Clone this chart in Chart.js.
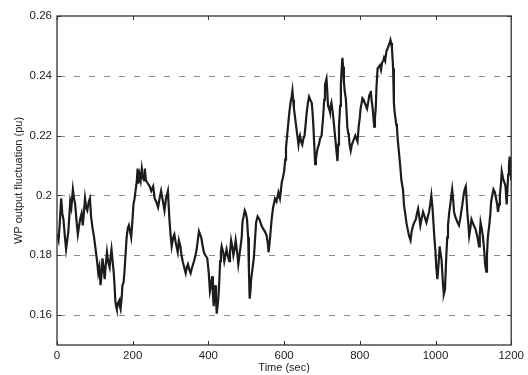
<!DOCTYPE html>
<html>
<head>
<meta charset="utf-8">
<script src="https://cdn.jsdelivr.net/npm/chart.js@4/dist/chart.umd.min.js"></script>
<style>
html,body{margin:0;padding:0;background:#fff;}
#wrap{width:528px;height:375px;position:relative;}
</style>
</head>
<body>
<div id="wrap"><canvas id="c" width="528" height="375"></canvas></div>
<script>
const timeSec = [0,4,7,11,14,17,21,24,27,30,35,38,42,45,48,52,55,61,65,68,71,74,77,80,84,87,90,94,98,102,106,109,112,115,118,120,123,126,129,132,135,139,142,144,147,150,152,154,156,158,161,165,166,168,171,173,176,178,181,184,187,190,193,196,199,202,205,208,211,213,215,218,221,224,227,230,232,235,240,245,249,254,258,262,267,271,275,280,284,288,293,297,300,303,307,310,314,319,322,326,329,332,336,340,343,346,350,353,357,362,366,369,372,375,378,381,385,388,392,397,401,404,407,410,412,414,416,418,420,422,425,427,429,431,433,435,439,442,445,448,451,455,457,460,463,466,469,472,476,479,482,485,488,490,493,496,499,502,505,507,509,511,513,516,520,523,526,530,535,540,544,549,554,557,559,563,567,571,576,580,585,589,594,597,600,603,605,608,611,614,617,620,622,624,626,629,632,635,638,640,642,645,648,651,654,657,660,663,666,669,673,675,677,680,682,684,686,689,692,695,699,701,703,706,708,710,712,714,716,719,721,723,725,728,730,733,736,739,741,743,745,748,750,752,754,756,758,760,763,765,767,769,771,773,776,779,782,785,788,791,794,797,800,802,805,807,810,813,816,819,822,825,827,829,831,834,836,838,840,842,844,847,850,853,856,859,862,864,867,870,873,876,879,881,883,885,887,888,890,892,894,896,898,900,903,906,908,910,914,917,920,923,926,930,934,937,941,944,948,951,954,957,960,963,967,971,976,980,983,986,989,992,994,997,1000,1002,1005,1008,1011,1013,1016,1018,1020,1022,1025,1027,1029,1031,1033,1036,1040,1044,1047,1049,1052,1055,1058,1062,1065,1068,1071,1074,1077,1080,1082,1084,1087,1089,1092,1095,1098,1101,1105,1108,1111,1115,1117,1119,1122,1125,1127,1129,1131,1134,1136,1138,1140,1142,1145,1147,1150,1153,1157,1160,1163,1165,1168,1170,1173,1175,1178,1180,1183,1185,1188,1190,1192,1194,1196,1198,1200];
const wpOutput = [0.187,0.185,0.190,0.199,0.194,0.192,0.186,0.182,0.185,0.188,0.198,0.196,0.202,0.199,0.197,0.191,0.187,0.192,0.194,0.190,0.194,0.199,0.196,0.195,0.198,0.199,0.193,0.189,0.186,0.182,0.178,0.174,0.176,0.170,0.174,0.179,0.176,0.172,0.177,0.181,0.178,0.176,0.180,0.182,0.178,0.174,0.170,0.165,0.163,0.162,0.164,0.165,0.163,0.162,0.166,0.170,0.171,0.174,0.180,0.186,0.189,0.190,0.188,0.186,0.191,0.197,0.199,0.202,0.205,0.209,0.204,0.207,0.205,0.209,0.206,0.205,0.209,0.205,0.204,0.203,0.2015,0.203,0.199,0.198,0.196,0.199,0.2015,0.198,0.195,0.199,0.2015,0.192,0.187,0.183,0.186,0.187,0.184,0.181,0.185,0.183,0.180,0.178,0.176,0.174,0.176,0.177,0.175,0.174,0.176,0.178,0.180,0.182,0.185,0.188,0.187,0.186,0.183,0.181,0.180,0.179,0.174,0.168,0.170,0.173,0.167,0.163,0.168,0.170,0.165,0.1605,0.164,0.167,0.172,0.178,0.181,0.183,0.181,0.178,0.180,0.182,0.180,0.178,0.181,0.185,0.183,0.180,0.182,0.185,0.181,0.177,0.180,0.183,0.186,0.191,0.193,0.195,0.194,0.192,0.186,0.175,0.1655,0.168,0.172,0.175,0.179,0.185,0.191,0.193,0.192,0.190,0.189,0.188,0.1865,0.184,0.181,0.186,0.192,0.196,0.199,0.198,0.201,0.199,0.2045,0.206,0.208,0.212,0.216,0.220,0.224,0.228,0.231,0.233,0.235,0.232,0.229,0.226,0.223,0.220,0.217,0.219,0.220,0.218,0.217,0.219,0.220,0.224,0.228,0.231,0.233,0.232,0.231,0.228,0.224,0.216,0.2105,0.212,0.214,0.216,0.217,0.219,0.220,0.223,0.226,0.232,0.237,0.238,0.239,0.235,0.230,0.229,0.228,0.230,0.231,0.228,0.226,0.222,0.218,0.214,0.2115,0.217,0.223,0.230,0.237,0.242,0.246,0.243,0.238,0.235,0.2325,0.228,0.223,0.221,0.220,0.217,0.215,0.217,0.218,0.219,0.220,0.219,0.218,0.223,0.226,0.229,0.231,0.2325,0.232,0.231,0.230,0.229,0.231,0.2335,0.234,0.235,0.232,0.229,0.226,0.223,0.226,0.229,0.236,0.2425,0.243,0.2435,0.242,0.2445,0.245,0.246,0.245,0.248,0.249,0.250,0.251,0.252,0.251,0.249,0.245,0.2425,0.231,0.228,0.226,0.224,0.223,0.219,0.215,0.211,0.208,0.205,0.202,0.1965,0.194,0.191,0.189,0.1865,0.185,0.188,0.190,0.191,0.192,0.194,0.1955,0.193,0.190,0.192,0.1945,0.193,0.191,0.193,0.1945,0.197,0.200,0.196,0.192,0.186,0.181,0.176,0.172,0.177,0.183,0.181,0.1785,0.174,0.170,0.167,0.1685,0.175,0.181,0.186,0.190,0.194,0.198,0.202,0.198,0.1945,0.193,0.192,0.191,0.190,0.192,0.1945,0.197,0.200,0.202,0.203,0.199,0.1945,0.190,0.1865,0.189,0.192,0.191,0.190,0.189,0.1875,0.186,0.183,0.187,0.191,0.189,0.1865,0.184,0.181,0.177,0.1745,0.180,0.1855,0.188,0.190,0.194,0.198,0.200,0.202,0.201,0.199,0.197,0.1945,0.197,0.200,0.204,0.208,0.206,0.205,0.204,0.203,0.197,0.202,0.207,0.210,0.213,0.209,0.205];
const xTicks = [0,200,400,600,800,1000,1200];
const yTicks = [0.16,0.18,0.2,0.22,0.24,0.26];
const xTitle = 'Time (sec)';
const yTitle = 'WP output fluctuation (pu)';

const points = timeSec.map((t,i)=>({x:t,y:wpOutput[i]}));

const framePlugin = {
  id:'frame',
  beforeDatasetsDraw(chart){
    const {ctx, chartArea:a, scales:{y}} = chart;
    ctx.save();
    ctx.strokeStyle = '#8a8a8a';
    ctx.lineWidth = 1;
    ctx.setLineDash([6,9]);
    yTicks.forEach(v=>{
      if (v >= y.max) return;
      const py = Math.round(y.getPixelForValue(v)) + 0.5;
      ctx.beginPath(); ctx.moveTo(a.left+2, py); ctx.lineTo(a.right, py); ctx.stroke();
    });
    ctx.restore();
  },
  afterDraw(chart){
    const {ctx, chartArea:a, scales:{x,y}} = chart;
    ctx.save();
    ctx.strokeStyle = '#333';
    ctx.lineWidth = 1.3;
    ctx.setLineDash([]);
    ctx.strokeRect(a.left, a.top, a.right-a.left, a.bottom-a.top);
    ctx.lineWidth = 1;
    xTicks.forEach(v=>{
      const px = Math.round(x.getPixelForValue(v))+0.5;
      ctx.beginPath();
      ctx.moveTo(px,a.bottom); ctx.lineTo(px,a.bottom-4);
      ctx.moveTo(px,a.top); ctx.lineTo(px,a.top+4);
      ctx.stroke();
    });
    yTicks.forEach(v=>{
      const py = Math.round(y.getPixelForValue(v))+0.5;
      ctx.beginPath();
      ctx.moveTo(a.left,py); ctx.lineTo(a.left+4,py);
      ctx.moveTo(a.right,py); ctx.lineTo(a.right-4,py);
      ctx.stroke();
    });
    ctx.restore();
  }
};

new Chart(document.getElementById('c'), {
  type:'line',
  data:{datasets:[{
    data:points,
    borderColor:'#1c1c1c',
    borderWidth:2.2,
    pointRadius:0,
    tension:0,
    fill:false
  }]},
  options:{
    responsive:false,
    animation:false,
    devicePixelRatio:1,
    layout:{padding:{left:0,right:15,top:16,bottom:0}},
    plugins:{legend:{display:false},tooltip:{enabled:false}},
    scales:{
      x:{
        type:'linear', min:0, max:1200,
        afterBuildTicks(s){ s.ticks = xTicks.map(v=>({value:v})); },
        afterFit(s){ s.height = 30; },
        grid:{display:false, drawTicks:false}, border:{display:false},
        ticks:{padding:4, color:'#222', font:{family:'Liberation Sans', size:11.5}, maxRotation:0,
          callback:v=>String(v)},
        title:{display:true, text:xTitle, color:'#222', font:{family:'Liberation Sans', size:11}, padding:{top:0,bottom:0}}
      },
      y:{
        type:'linear', min:0.15, max:0.26,
        afterBuildTicks(s){ s.ticks = yTicks.map(v=>({value:v})); },
        afterFit(s){ s.width = 57; },
        grid:{display:false, drawTicks:false}, border:{display:false},
        ticks:{padding:5, color:'#222', font:{family:'Liberation Sans', size:11.5},
          callback:v=>String(+v.toFixed(2))},
        title:{display:true, text:yTitle, color:'#222', font:{family:'Liberation Sans', size:11}, padding:{top:12,bottom:0}}
      }
    }
  },
  plugins:[framePlugin]
});
</script>
</body>
</html>
